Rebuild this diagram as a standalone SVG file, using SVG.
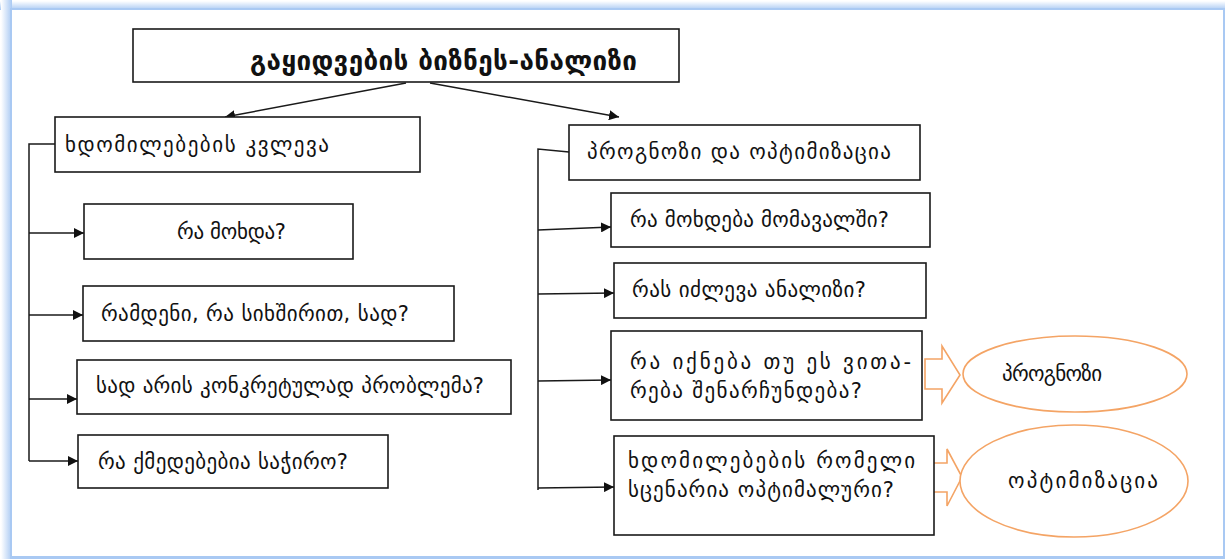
<svg xmlns="http://www.w3.org/2000/svg" width="1225" height="559" viewBox="0 0 1225 559">
<defs>
<style>
.box{fill:#fff;stroke:#1a1a1a;stroke-width:1.6}
.t{font-family:"DejaVu Sans",sans-serif;font-size:21px;fill:#111}
.tt{font-family:"DejaVu Sans",sans-serif;font-size:26px;font-weight:bold;fill:#111}
.ln{fill:none;stroke:#1a1a1a;stroke-width:1.5}
.or{fill:#fff;stroke:#f4a465;stroke-width:1.6}
</style>
<marker id="ah" viewBox="0 0 10 10" refX="10" refY="5" markerWidth="10" markerHeight="10" markerUnits="userSpaceOnUse" orient="auto">
<path d="M0,0 L10,5 L0,10 z" fill="#111"/>
</marker>
<linearGradient id="gt" x1="0" y1="0" x2="0" y2="1">
<stop offset="0" stop-color="#fff"/><stop offset="1" stop-color="#a9c9f3"/>
</linearGradient>
<linearGradient id="gl" x1="0" y1="0" x2="1" y2="0">
<stop offset="0" stop-color="#fff"/><stop offset="1" stop-color="#a9c9f3"/>
</linearGradient>
</defs>
<rect x="0" y="0" width="1225" height="559" fill="#fff"/>
<rect x="0" y="1" width="1225" height="9" fill="url(#gt)"/>
<rect x="1" y="0" width="11" height="559" fill="url(#gl)"/>
<rect x="10" y="8" width="1215" height="551" fill="#a9c9f3"/>
<rect x="12" y="10" width="1211" height="546" fill="#fff"/>

<g id="connectors">
<line class="ln" x1="406" y1="83" x2="225" y2="117" marker-end="url(#ah)"/>
<line class="ln" x1="430" y1="83" x2="619" y2="117" marker-end="url(#ah)"/>
<polyline class="ln" points="55,144 29,144 29,461"/>
<line class="ln" x1="29" y1="233" x2="84" y2="233" marker-end="url(#ah)"/>
<line class="ln" x1="29" y1="315" x2="83" y2="315" marker-end="url(#ah)"/>
<line class="ln" x1="29" y1="399" x2="77" y2="399" marker-end="url(#ah)"/>
<line class="ln" x1="29" y1="461" x2="78" y2="461" marker-end="url(#ah)"/>
<polyline class="ln" points="569,152 538,149 538,490"/>
<line class="ln" x1="538" y1="230" x2="611" y2="227" marker-end="url(#ah)"/>
<line class="ln" x1="538" y1="294" x2="614" y2="293" marker-end="url(#ah)"/>
<line class="ln" x1="538" y1="381" x2="611" y2="380" marker-end="url(#ah)"/>
<line class="ln" x1="538" y1="488" x2="614" y2="487" marker-end="url(#ah)"/>
<path class="or" d="M925,359 L942,359 L942,346 L960,375 L942,403 L942,389 L925,389 z"/>
<path class="or" d="M933,463 L947,463 L947,449 L962,477 L947,506 L947,492 L933,492 z"/>
</g>

<g id="title">
<rect class="box" x="133" y="29" width="546" height="53"/>
<text class="tt" x="250" y="70" textLength="387" lengthAdjust="spacing">გაყიდვების ბიზნეს-ანალიზი</text>
</g>
<g id="n-research">
<rect class="box" x="55" y="117" width="365" height="55"/>
<text class="t" x="65" y="152" textLength="264" lengthAdjust="spacing">ხდომილებების კვლევა</text>
</g>
<g id="n-what">
<rect class="box" x="84" y="204" width="269" height="55"/>
<text class="t" x="177" y="239" textLength="109" lengthAdjust="spacing">რა მოხდა?</text>
</g>
<g id="n-howmany">
<rect class="box" x="83" y="286" width="371" height="55"/>
<text class="t" x="101" y="321" textLength="308" lengthAdjust="spacing">რამდენი, რა სიხშირით, სად?</text>
</g>
<g id="n-where">
<rect class="box" x="77" y="360" width="434" height="54"/>
<text class="t" x="96" y="393" textLength="388" lengthAdjust="spacing">სად არის კონკრეტულად პრობლემა?</text>
</g>
<g id="n-actions">
<rect class="box" x="78" y="435" width="310" height="53"/>
<text class="t" x="98" y="469" textLength="250" lengthAdjust="spacing">რა ქმედებებია საჭირო?</text>
</g>
<g id="n-forecast">
<rect class="box" x="569" y="125" width="351" height="55"/>
<text class="t" x="587" y="159" textLength="304" lengthAdjust="spacing">პროგნოზი და ოპტიმიზაცია</text>
</g>
<g id="n-future">
<rect class="box" x="611" y="193" width="319" height="54"/>
<text class="t" x="630" y="227" textLength="259" lengthAdjust="spacing">რა მოხდება მომავალში?</text>
</g>
<g id="n-analysis">
<rect class="box" x="614" y="263" width="312" height="55"/>
<text class="t" x="632" y="297" textLength="234" lengthAdjust="spacing">რას იძლევა ანალიზი?</text>
</g>
<g id="n-ifkeep">
<rect class="box" x="611" y="331" width="311" height="89"/>
<text class="t" x="630" y="369" textLength="281" lengthAdjust="spacing">რა იქნება თუ ეს ვითა-</text>
<text class="t" x="630" y="398" textLength="232" lengthAdjust="spacing">რება შენარჩუნდება?</text>
</g>
<g id="n-optimal">
<rect class="box" x="614" y="436" width="320" height="99"/>
<text class="t" x="628" y="468" textLength="287" lengthAdjust="spacing">ხდომილებების რომელი</text>
<text class="t" x="628" y="497" textLength="266" lengthAdjust="spacing">სცენარია ოპტიმალური?</text>
</g>
<g id="e-forecast">
<ellipse class="or" cx="1075" cy="374" rx="112" ry="38"/>
<text class="t" x="1002" y="381" textLength="100" lengthAdjust="spacing">პროგნოზი</text>
</g>
<g id="e-optimize">
<ellipse class="or" cx="1074" cy="481" rx="114" ry="56"/>
<text class="t" x="1008" y="488" textLength="150" lengthAdjust="spacing">ოპტიმიზაცია</text>
</g>
</svg>
